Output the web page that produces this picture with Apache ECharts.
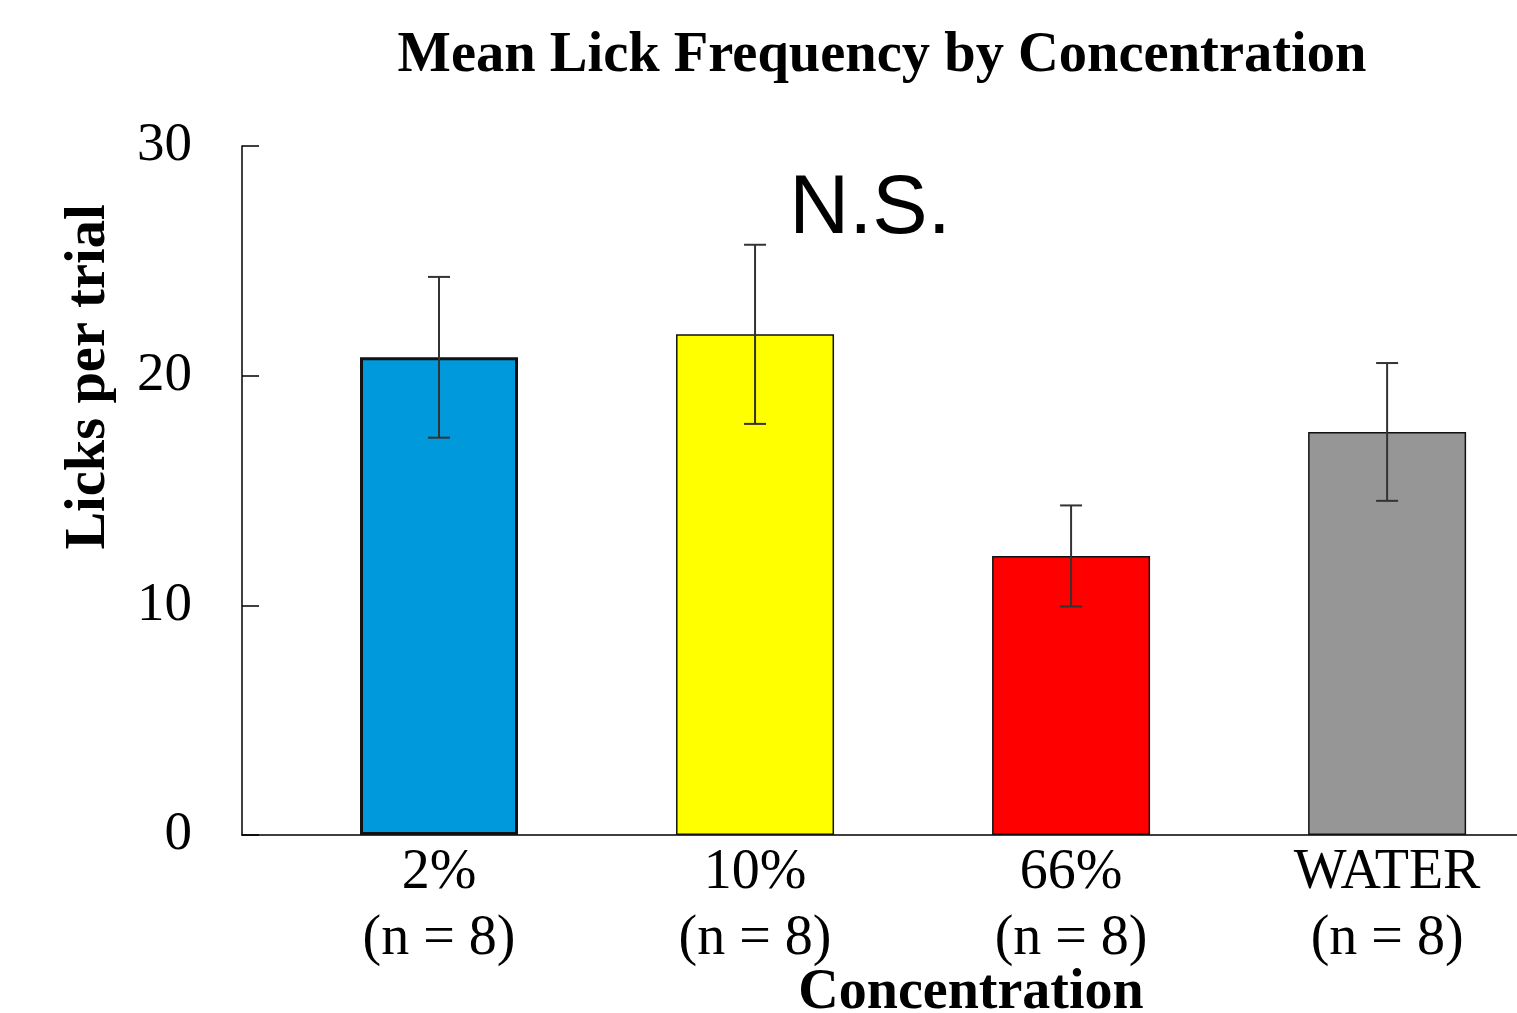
<!DOCTYPE html>
<html>
<head>
<meta charset="utf-8">
<script src="https://cdn.jsdelivr.net/npm/echarts@6/dist/echarts.min.js"></script>
<style>
html,body{margin:0;padding:0;background:#fff;}
#chart{width:1517px;height:1013px;}
</style>
</head>
<body>
<div id="chart"></div>
<script>
const categories = ['2%', '10%', '66%', 'WATER'];
const nLabels = ['(n = 8)', '(n = 8)', '(n = 8)', '(n = 8)'];
const means = [20.8, 21.8, 12.15, 17.55];
const errors = [3.5, 3.9, 2.2, 3.0];
const barColors = ['#009ADC', '#FFFF00', '#FE0000', '#969696'];
const borderWidths = [3, 1.5, 1.5, 1.5];
const yTicks = [0, 10, 20, 30];

const positions = categories.map((c, i) => i + 1);
const serif = "'Liberation Serif', 'Times New Roman', serif";

const chart = echarts.init(document.getElementById('chart'));
chart.setOption({
  animation: false,
  backgroundColor: '#ffffff',
  grid: { left: 242, right: 0, top: 146, bottom: 178, containLabel: false },
  xAxis: {
    type: 'value',
    min: 0.3766,
    max: 4.411,
    axisLine: { show: true, onZero: false, lineStyle: { color: '#000', width: 1.5 } },
    axisTick: { show: false },
    splitLine: { show: false },
    axisLabel: {
      customValues: positions,
      formatter: v => {
        const i = Math.round(v) - 1;
        return categories[i] + '\n' + nLabels[i];
      },
      fontFamily: serif,
      fontSize: 56,
      color: '#000',
      lineHeight: 66,
      margin: 5
    }
  },
  yAxis: {
    type: 'value',
    min: 0,
    max: 30,
    interval: 10,
    axisLine: { show: true, lineStyle: { color: '#000', width: 1.5 } },
    axisTick: { show: true, inside: true, length: 17, lineStyle: { color: '#000', width: 1.5 } },
    splitLine: { show: false },
    axisLabel: {
      customValues: yTicks,
      fontFamily: serif,
      fontSize: 55,
      color: '#000',
      margin: 50
    }
  },
  series: [
    {
      type: 'bar',
      barWidth: 158,
      data: means.map((m, i) => ({
        value: [positions[i], m],
        itemStyle: { color: barColors[i], borderColor: '#111', borderWidth: borderWidths[i] }
      }))
    },
    {
      type: 'custom',
      z: 5,
      data: means.map((m, i) => [positions[i], m - errors[i], m + errors[i]]),
      renderItem: (params, api) => {
        const x = api.value(0);
        const lo = api.coord([x, api.value(1)]);
        const hi = api.coord([x, api.value(2)]);
        const hw = 11;
        const style = { stroke: '#333', lineWidth: 2 };
        return {
          type: 'group',
          children: [
            { type: 'line', shape: { x1: lo[0], y1: lo[1], x2: hi[0], y2: hi[1] }, style },
            { type: 'line', shape: { x1: hi[0] - hw, y1: hi[1], x2: hi[0] + hw, y2: hi[1] }, style },
            { type: 'line', shape: { x1: lo[0] - hw, y1: lo[1], x2: lo[0] + hw, y2: lo[1] }, style }
          ]
        };
      }
    }
  ],
  graphic: [
    {
      type: 'text', x: 882, y: 56,
      style: { text: 'Mean Lick Frequency by Concentration', font: "bold 56.5px " + serif, fill: '#000', textAlign: 'center', textVerticalAlign: 'middle' }
    },
    {
      type: 'text', x: 870, y: 210,
      style: { text: 'N.S.', font: "83px 'Liberation Sans', Arial, sans-serif", fill: '#000', textAlign: 'center', textVerticalAlign: 'middle' }
    },
    {
      type: 'text', x: 971, y: 994,
      style: { text: 'Concentration', font: "bold 56px " + serif, fill: '#000', textAlign: 'center', textVerticalAlign: 'middle' }
    },
    {
      type: 'text', x: 89, y: 377, rotation: Math.PI / 2,
      style: { text: 'Licks per trial', font: "bold 56.5px " + serif, fill: '#000', textAlign: 'center', textVerticalAlign: 'middle' }
    }
  ]
});
</script>
</body>
</html>
